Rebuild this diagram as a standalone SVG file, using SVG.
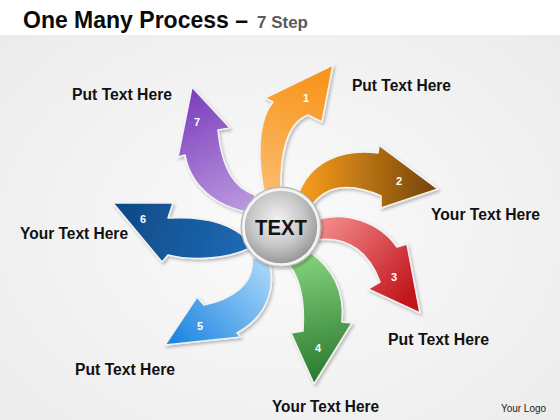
<svg xmlns="http://www.w3.org/2000/svg" width="560" height="420" viewBox="0 0 560 420">
<defs>
  <radialGradient id="bg" cx="50%" cy="55%" r="70%">
    <stop offset="0" stop-color="#fbfbfb"/>
    <stop offset="1" stop-color="#ebebeb"/>
  </radialGradient>
  <radialGradient id="ball" cx="45%" cy="40%" r="60%">
    <stop offset="0" stop-color="#f2f2f2"/>
    <stop offset="0.6" stop-color="#c6c6c6"/>
    <stop offset="1" stop-color="#959595"/>
  </radialGradient>
  <linearGradient id="g1" gradientUnits="userSpaceOnUse" x1="275" y1="200" x2="320" y2="80">
    <stop offset="0" stop-color="#fcbd6e"/><stop offset="1" stop-color="#f7961f"/>
  </linearGradient>
  <linearGradient id="g2" gradientUnits="userSpaceOnUse" x1="305" y1="185" x2="430" y2="185">
    <stop offset="0" stop-color="#f49b1c"/><stop offset="1" stop-color="#7a4808"/>
  </linearGradient>
  <linearGradient id="g3" gradientUnits="userSpaceOnUse" x1="320" y1="225" x2="410" y2="300">
    <stop offset="0" stop-color="#f38a8a"/><stop offset="1" stop-color="#c1121a"/>
  </linearGradient>
  <linearGradient id="g4" gradientUnits="userSpaceOnUse" x1="300" y1="258" x2="320" y2="380">
    <stop offset="0" stop-color="#82d07a"/><stop offset="1" stop-color="#2a7a30"/>
  </linearGradient>
  <linearGradient id="g5" gradientUnits="userSpaceOnUse" x1="262" y1="262" x2="175" y2="340">
    <stop offset="0" stop-color="#a6d5f8"/><stop offset="1" stop-color="#1f86e2"/>
  </linearGradient>
  <linearGradient id="g6" gradientUnits="userSpaceOnUse" x1="248" y1="245" x2="120" y2="210">
    <stop offset="0" stop-color="#1e6ab5"/><stop offset="1" stop-color="#0f4a88"/>
  </linearGradient>
  <linearGradient id="g7" gradientUnits="userSpaceOnUse" x1="250" y1="205" x2="190" y2="90">
    <stop offset="0" stop-color="#b998de"/><stop offset="1" stop-color="#7c3dbd"/>
  </linearGradient>
  <filter id="sh" x="-20%" y="-20%" width="140%" height="140%">
    <feDropShadow dx="1.5" dy="2" stdDeviation="1.5" flood-color="#000" flood-opacity="0.25"/>
  </filter>
</defs>
<style>
  .arrow { stroke: #f2f2f2; stroke-width: 1.6; stroke-linejoin: round; filter: url(#sh); }
  .num { font-family: "Liberation Sans", Arial, sans-serif; font-weight: bold; font-size: 11px; fill: #ffffff; text-anchor: middle; }
  .lbl { font-family: "Liberation Sans", Arial, sans-serif; font-weight: bold; font-size: 16px; fill: #111111; }
</style>

<rect x="0" y="0" width="560" height="420" fill="url(#bg)"/>
<rect x="0" y="0" width="560" height="35" fill="#ffffff"/>

<g id="title">
  <text x="23" y="28" font-family="Liberation Sans, Arial, sans-serif" font-weight="bold" font-size="23" fill="#0a0a0a" textLength="225" lengthAdjust="spacingAndGlyphs">One Many Process –</text>
  <text x="257" y="28" font-family="Liberation Sans, Arial, sans-serif" font-weight="bold" font-size="17" fill="#5a5a5a" textLength="51" lengthAdjust="spacingAndGlyphs">7 Step</text>
</g>

<g id="arrow7">
  <path class="arrow" fill="url(#g7)" d="M218,130 L230,128 L192,87 L178,157 L185,155 C190,185 215,207 252,213 L255,195 C235,188 222,170 218,130 Z"/>
  <text class="num" x="197" y="126">7</text>
</g>
<g id="arrow1">
  <path class="arrow" fill="url(#g1)" d="M266,200 C256,160 258,120 273,102 L265,98 L333,65 L322,122 L308,115 C290,122 279,145 281,200 Z"/>
  <text class="num" x="306" y="102">1</text>
</g>
<g id="arrow2">
  <path class="arrow" fill="url(#g2)" d="M298,195 C310,160 345,148 378,153 L379,145 L438,189 L381,208 L381,196 C350,182 325,185 310,208 Z"/>
  <text class="num" x="399" y="185">2</text>
</g>
<g id="arrow3">
  <path class="arrow" fill="url(#g3)" d="M315,220 C345,210 380,222 397,247 L407,244 L420,313 L368,289 L380,282 C370,255 350,235 315,240 Z"/>
  <text class="num" x="394" y="281">3</text>
</g>
<g id="arrow4">
  <path class="arrow" fill="url(#g4)" d="M310,252 C333,268 345,292 342,322 L352,323 L314,384 L291,333 L303,331 C305,300 300,275 285,260 Z"/>
  <text class="num" x="318" y="352">4</text>
</g>
<g id="arrow5">
  <path class="arrow" fill="url(#g5)" d="M268,258 C278,290 265,318 237,333 L241,337 L165,345 L197,297 L204,305 C230,300 255,285 252,258 Z"/>
  <text class="num" x="200" y="330">5</text>
</g>
<g id="arrow6">
  <path class="arrow" fill="url(#g6)" d="M248,240 C230,222 200,216 168,218 L173,203 L113,203 L162,262 L168,255 C195,262 230,258 250,248 Z"/>
  <text class="num" x="143" y="223">6</text>
</g>

<g id="center">
  <circle cx="281" cy="227" r="40" fill="#d9d9d9" stroke="#b0b0b0" stroke-width="1" filter="url(#sh)"/>
  <circle cx="281" cy="227" r="37.5" fill="url(#ball)" stroke="#f4f4f4" stroke-width="2.5"/>
  <text x="281" y="235" text-anchor="middle" font-family="Liberation Sans, Arial, sans-serif" font-weight="bold" font-size="22" fill="#151515" textLength="52" lengthAdjust="spacingAndGlyphs">TEXT</text>
</g>

<g id="labels">
  <text class="lbl" x="72" y="100" textLength="100" lengthAdjust="spacingAndGlyphs">Put Text Here</text>
  <text class="lbl" x="352" y="91" textLength="99" lengthAdjust="spacingAndGlyphs">Put Text Here</text>
  <text class="lbl" x="431" y="220" textLength="109" lengthAdjust="spacingAndGlyphs">Your Text Here</text>
  <text class="lbl" x="20" y="239" textLength="108" lengthAdjust="spacingAndGlyphs">Your Text Here</text>
  <text class="lbl" x="388" y="345" textLength="101" lengthAdjust="spacingAndGlyphs">Put Text Here</text>
  <text class="lbl" x="75" y="375" textLength="100" lengthAdjust="spacingAndGlyphs">Put Text Here</text>
  <text class="lbl" x="272" y="412" textLength="107" lengthAdjust="spacingAndGlyphs">Your Text Here</text>
  <text x="501" y="412" font-family="Liberation Sans, Arial, sans-serif" font-size="10" fill="#222222" textLength="45" lengthAdjust="spacingAndGlyphs">Your Logo</text>
</g>
</svg>
